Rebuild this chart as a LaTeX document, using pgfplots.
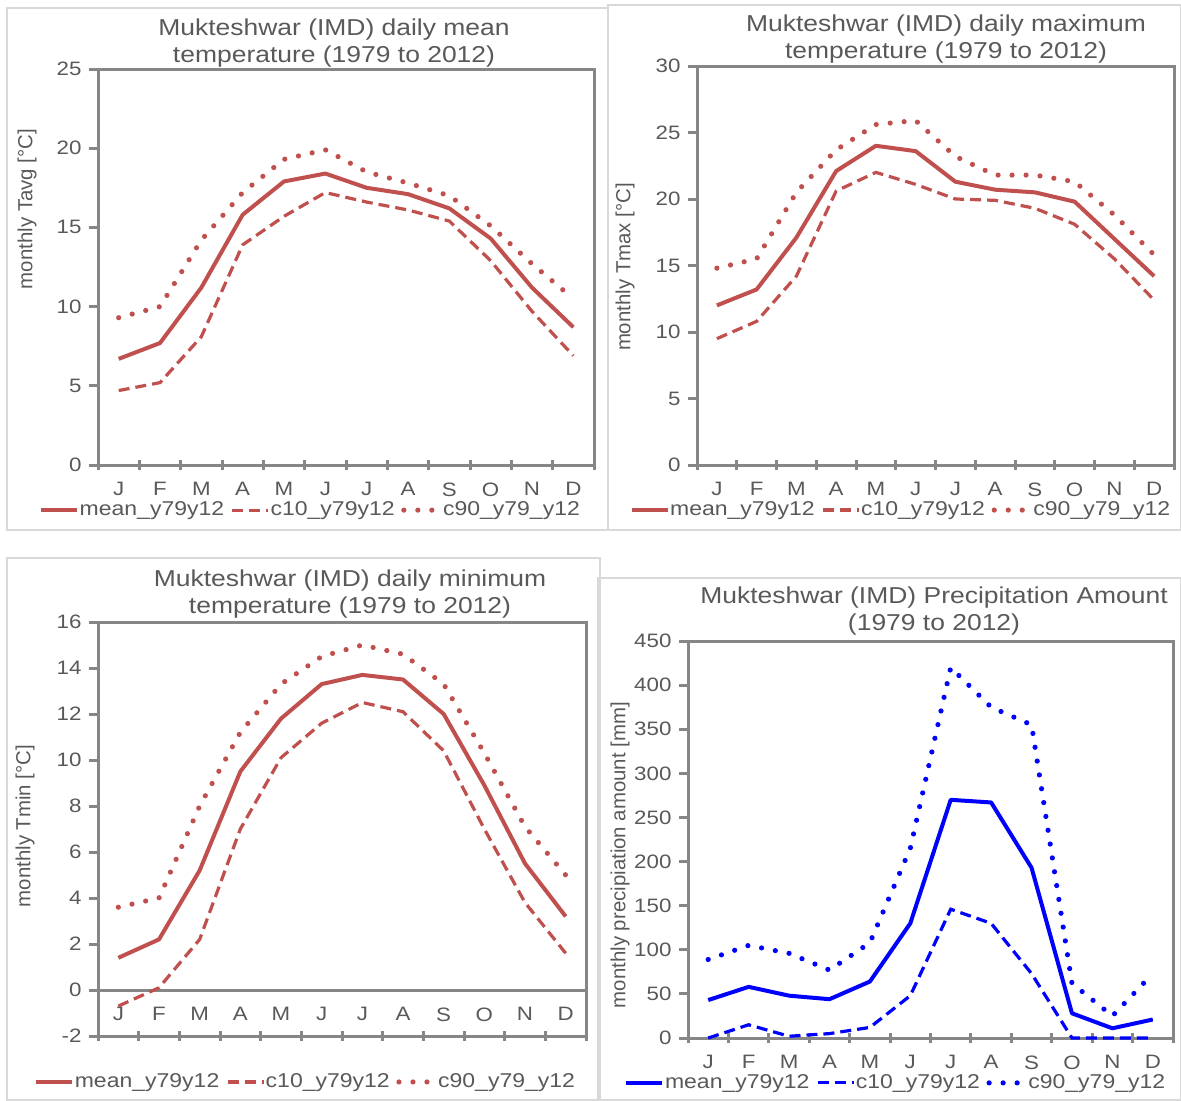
\documentclass[border=0pt]{standalone}
\usepackage{fontspec}
\setmainfont{Liberation Sans}[FakeStretch=1.15]
\newfontfamily\rotfont{Liberation Sans}
\usepackage{pgfplots}
\usepackage{pgfplotstable}
\pgfplotsset{compat=1.18}

\definecolor{txt}{HTML}{595959}
\definecolor{axisgrey}{HTML}{868686}
\definecolor{framegrey}{HTML}{D9D9D9}
\definecolor{exred}{HTML}{C0504D}
\definecolor{exblue}{HTML}{0000FF}

% month, mean, c10, c90
\pgfplotstableread{
m mean c10 c90
1 6.7 4.7 9.3
2 7.7 5.2 10.0
3 11.2 8.1 14.2
4 15.8 13.9 17.2
5 17.9 15.7 19.3
6 18.4 17.2 19.9
7 17.5 16.6 18.5
8 17.1 16.1 17.8
9 16.2 15.4 17.0
10 14.3 12.9 15.1
11 11.2 9.7 12.7
12 8.7 6.9 10.5
}\tavg

\pgfplotstableread{
m mean c10 c90
1 12.0 9.5 14.8
2 13.2 10.8 15.5
3 17.1 14.2 20.5
4 22.1 20.6 23.7
5 24.0 22.0 25.6
6 23.6 21.1 25.9
7 21.3 20.0 23.2
8 20.7 19.9 21.8
9 20.5 19.3 21.8
10 19.8 18.1 21.3
11 17.0 15.5 18.8
12 14.2 12.4 15.8
}\tmax

\pgfplotstableread{
m mean c10 c90
1 1.4 -0.7 3.6
2 2.2 0.1 4.0
3 5.2 2.2 8.0
4 9.5 7.0 11.2
5 11.8 10.1 13.3
6 13.3 11.6 14.5
7 13.7 12.5 15.0
8 13.5 12.1 14.6
9 12.0 10.4 13.3
10 8.9 7.0 10.3
11 5.5 3.8 7.1
12 3.2 1.6 5.0
}\tmin

\pgfplotstableread{
m mean c10 c90
1 43 0 89
2 58 15 105
3 48 2 96
4 44 5 77
5 64 12 108
6 130 48 215
7 270 146 420
8 267 130 375
9 193 73 355
10 28 0 62
11 11 0 25
12 21 0 73
}\prec

\pgfplotsset{
  panel/.style={
    scale only axis, anchor=south west, clip=false,
    xmin=0.5, xmax=12.5,
    xtick={1,...,12}, xticklabels={J,F,M,A,M,J,J,A,S,O,N,D},
    minor xtick={0.5,1.5,...,12.5},
    xtick pos=left, ytick pos=left,
    tick align=center,
    major tick length=4.5pt, minor tick length=5pt,
    major x tick style={draw=none},
    minor x tick style={axisgrey, line width=1.5pt},
    major y tick style={axisgrey, line width=1.5pt, xshift=-2.25pt},
    axis line style={axisgrey, line width=1.5pt},
    tick label style={font=\fontsize{9.7}{11}\selectfont, text=txt},
    xticklabel style={yshift=-3pt},
    yticklabel style={xshift=-2.5pt},
    /pgf/number format/assume math mode=true,
    legend columns=3,
    legend style={draw=none, fill=none, anchor=center,
      font=\fontsize{10}{12}\selectfont, text=txt,
      nodes={inner xsep=0.3pt},
      /tikz/every even column/.append style={column sep=3pt}},
    legend image code/.code={\draw[##1] (0pt,0pt) -- (18pt,0pt);},
  },
  smean/.style={line width=2pt, line join=round},
  sc10/.style={line width=1.6pt, dash pattern=on 5.5pt off 3pt},
  sc90/.style={line width=2.6pt, line cap=round, dash pattern=on 0pt off 7pt},
}

\tikzset{
  ttl/.style={align=center, text=txt, font=\fontsize{11.5}{13.5}\selectfont},
  ylab/.style={rotate=90, text=txt, font=\rotfont\fontsize{10.2}{12}\selectfont},
}

\begin{document}
\begin{tikzpicture}[x=0.5pt, y=0.5pt]
\useasboundingbox (0,0) rectangle (1181,1100);

% panel frames
\draw[framegrey, line width=0.6pt] (7,570) rectangle (608,1092);
\draw[framegrey, line width=0.6pt] (608,570) rectangle (1181,1095);
\draw[framegrey, line width=0.6pt] (7,0) rectangle (600,542);
\draw[framegrey, line width=0.6pt] (598,0) rectangle (1181,522);

% top left: mean temperature
\begin{axis}[panel, at={(49pt,317.5pt)}, width=248pt, height=198pt,
  ymin=0, ymax=25, ytick={0,5,...,25},
  legend style={at={(0.427,-0.114)}}]
\addplot[exred, smean] table[x=m, y=mean] {\tavg};
\addplot[exred, sc10] table[x=m, y=c10] {\tavg};
\addplot[exred, sc90] table[x=m, y=c90] {\tavg};
\legend{mean\_y79y12, c10\_y79y12, c90\_y79\_y12}
\end{axis}

% top right: maximum temperature
\begin{axis}[panel, at={(348.5pt,317.5pt)}, width=238.5pt, height=199.5pt,
  ymin=0, ymax=30, ytick={0,5,...,30},
  legend style={at={(0.426,-0.113)}}]
\addplot[exred, smean] table[x=m, y=mean] {\tmax};
\addplot[exred, sc10] table[x=m, y=c10] {\tmax};
\addplot[exred, sc90] table[x=m, y=c90] {\tmax};
\legend{mean\_y79y12, c10\_y79y12, c90\_y79\_y12}
\end{axis}

% bottom left: minimum temperature
\begin{axis}[panel, at={(49pt,32pt)}, width=244pt, height=207pt,
  axis x line*=middle, axis y line*=left,
  hide obscured x ticks=false, hide obscured y ticks=false,
  ymin=-2, ymax=16, ytick={-2,0,...,16},
  legend style={at={(0.424,-0.111)}}]
\draw[axisgrey, line width=1.5pt] (rel axis cs:0,0) rectangle (rel axis cs:1,1);
\addplot[exred, smean] table[x=m, y=mean] {\tmin};
\addplot[exred, sc10] table[x=m, y=c10] {\tmin};
\addplot[exred, sc90] table[x=m, y=c90] {\tmin};
\legend{mean\_y79y12, c10\_y79y12, c90\_y79\_y12}
\end{axis}

% bottom right: precipitation
\begin{axis}[panel, at={(344pt,31pt)}, width=242.5pt, height=198.5pt,
  ymin=0, ymax=450, ytick={0,50,...,450},
  legend style={at={(0.427,-0.113)}}]
\addplot[exblue, smean] table[x=m, y=mean] {\prec};
\addplot[exblue, sc10] table[x=m, y=c10] {\prec};
\addplot[exblue, sc90] table[x=m, y=c90] {\prec};
\legend{mean\_y79y12, c10\_y79y12, c90\_y79\_y12}
\end{axis}

% titles
\node[ttl] at (334,1056.5) {Mukteshwar (IMD) daily mean\\temperature (1979 to 2012)};
\node[ttl] at (946,1060.5) {Mukteshwar (IMD) daily maximum\\temperature (1979 to 2012)};
\node[ttl] at (350,505.5) {Mukteshwar (IMD) daily minimum\\temperature (1979 to 2012)};
\node[ttl] at (934,488.5) {Mukteshwar (IMD) Precipitation Amount\\(1979 to 2012)};

% y labels
\node[ylab] at (27,891) {monthly Tavg [°C]};
\node[ylab] at (625,833) {monthly Tmax [°C]};
\node[ylab] at (25,274) {monthly Tmin [°C]};
\node[ylab] at (620,245) {monthly precipiation amount [mm]};
\end{tikzpicture}
\end{document}
